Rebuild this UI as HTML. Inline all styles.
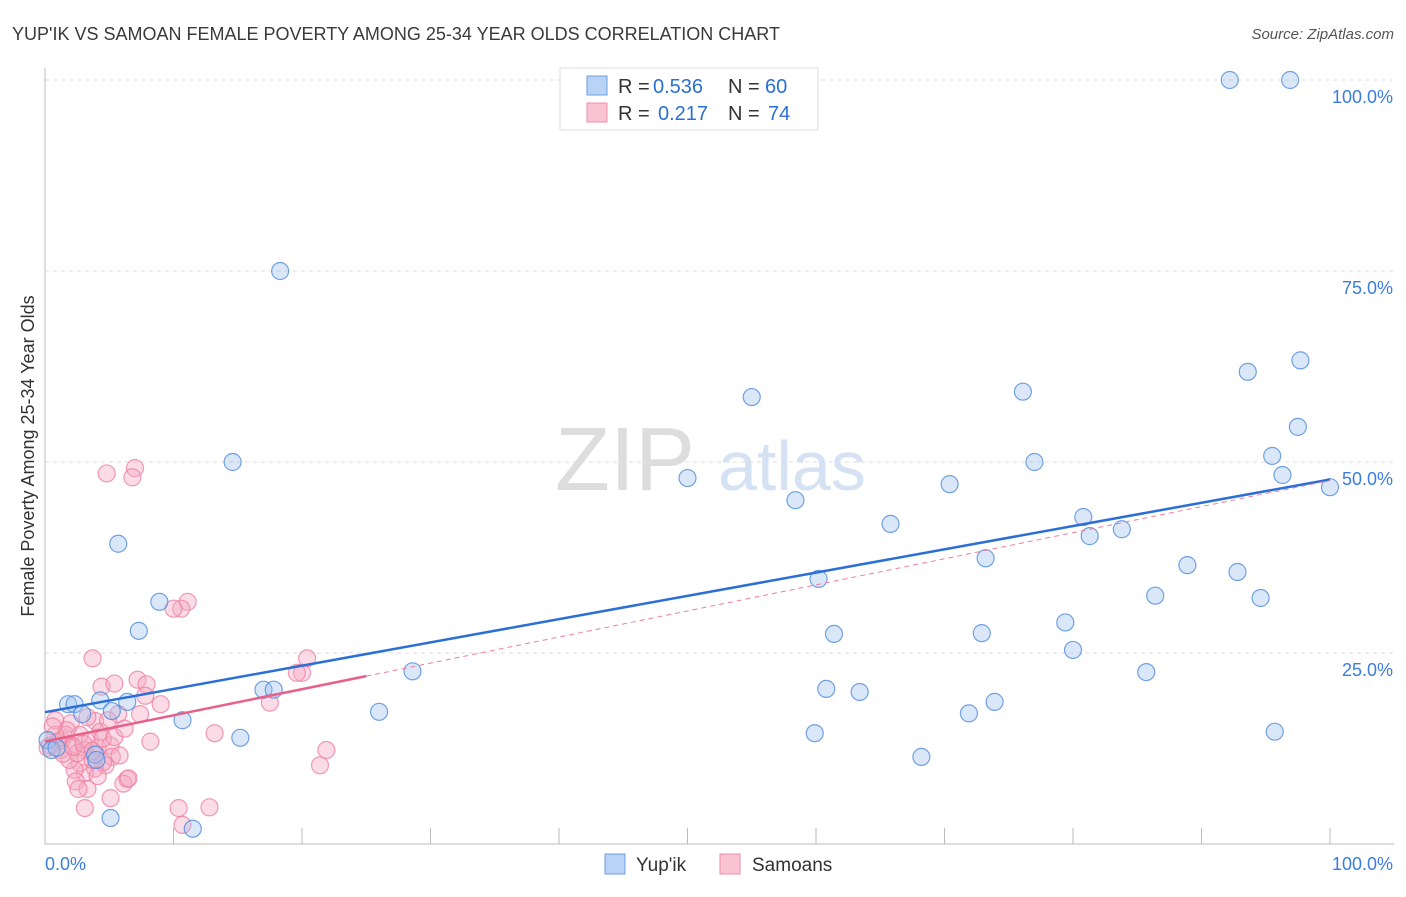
<!DOCTYPE html>
<html><head><meta charset="utf-8"><style>
body{margin:0;background:#fff;font-family:"Liberation Sans",sans-serif}
svg text{font-family:"Liberation Sans",sans-serif}
</style></head><body>
<svg width="1406" height="892" viewBox="0 0 1406 892" xmlns="http://www.w3.org/2000/svg">
<text x="12" y="40" font-size="18" fill="#3a3a3a">YUP'IK VS SAMOAN FEMALE POVERTY AMONG 25-34 YEAR OLDS CORRELATION CHART</text>
<text x="1394" y="39" font-size="15" fill="#555" text-anchor="end" font-style="italic">Source: ZipAtlas.com</text>
<g id="grid"></g>
<text x="555" y="490" font-size="90" fill="#ddd" font-family="Liberation Serif">ZIP</text>
<text x="718" y="490" font-size="70" fill="#d5e2f3">atlas</text>
<g id="marks"></g>
<text transform="translate(34,456) rotate(-90)" font-size="18" fill="#333" text-anchor="middle">Female Poverty Among 25-34 Year Olds</text>
<g>
<rect x="560" y="68" width="258" height="62" fill="#fff" stroke="#ddd"/>
<rect x="587" y="76" width="20" height="19" fill="#b8d3f5" stroke="#6b9fe0"/>
<rect x="587" y="103" width="20" height="19" fill="#f9c3d3" stroke="#ec8fab"/>
<text y="93" font-size="20" fill="#333"><tspan x="618">R =</tspan><tspan x="653" fill="#2b6fd6">0.536</tspan><tspan x="728">N =</tspan><tspan x="765" fill="#2b6fd6">60</tspan></text>
<text y="120" font-size="20" fill="#333"><tspan x="618">R =</tspan><tspan x="658" fill="#2b6fd6">0.217</tspan><tspan x="728">N =</tspan><tspan x="768" fill="#2b6fd6">74</tspan></text>
</g>
<g>
<rect x="605" y="854" width="20" height="20" fill="#b8d3f5" stroke="#6b9fe0"/>
<text x="636" y="871" font-size="19" fill="#333">Yup'ik</text>
<rect x="720" y="854" width="20" height="20" fill="#f9c3d3" stroke="#ec8fab"/>
<text x="752" y="871" font-size="19" fill="#333">Samoans</text>
</g>
</svg>
<script>
const yTicks=[25,50,75,100];
const yTickLabels=["25.0%","50.0%","75.0%","100.0%"];
const xTickLabels=["0.0%","100.0%"];
const yupikX=[92.2,96.9,18.3,14.6,5.7,8.9,7.3,1.8,2.3,4.3,2.9,6.4,5.2,10.7,15.2,17.0,17.8,28.6,26.0,5.1,11.5,0.2,0.5,0.9,3.9,4.0,55.0,50.0,58.4,60.2,61.4,60.8,63.4,59.9,68.2,65.8,70.4,73.2,72.9,71.9,73.9,76.1,77.0,80.8,81.3,83.8,79.4,80.0,85.7,86.4,88.9,92.8,94.6,93.6,97.7,97.5,95.5,96.3,100.0,95.7];
const yupikY=[100,100,75,50,39.3,31.7,27.9,18.3,18.3,18.8,17.0,18.6,17.4,16.2,13.9,20.2,20.2,22.6,17.3,3.4,2.0,13.6,12.3,12.6,11.7,11.0,58.5,47.9,45,34.7,27.5,20.3,19.9,14.5,11.4,41.9,47.1,37.4,27.6,17.1,18.6,59.2,50,42.8,40.3,41.2,29,25.4,22.5,32.5,36.5,35.6,32.2,61.8,63.3,54.6,50.8,48.3,46.7,14.7];
const samX=[4.8,7.0,6.8,11.1,10.6,10.0,3.7,20.4,20.0,19.6,7.2,7.9,4.4,5.4,7.8,9.0,17.5,5.7,2.0,3.9,3.3,0.8,0.4,1.3,1.6,2.1,2.7,3.1,3.5,4.1,4.3,5.1,5.2,4.7,3.9,3.1,2.7,2.3,1.9,1.2,1.0,1.7,2.5,3.7,4.5,5.8,8.2,13.2,21.9,21.4,6.4,6.1,6.5,2.4,3.3,5.1,3.1,10.4,12.8,10.7,0.8,0.2,0.6,1.4,2.2,3.0,3.7,4.5,5.4,6.2,7.4,4.9,4.1,2.6];
const samY=[48.5,49.2,48,31.7,30.8,30.8,24.3,24.3,22.4,22.4,21.5,20.9,20.6,21.0,19.4,18.3,18.5,17.0,15.8,16.1,16.6,16.2,12.9,13.6,14.3,12.9,14.3,12.3,13.6,12.6,14.7,12.9,11.4,10.3,9.9,9.3,10.6,9.7,11.0,12.3,13.4,14.9,11.9,11.0,10.7,11.6,13.4,14.5,12.3,10.3,8.5,7.9,8.6,8.2,7.2,6.0,4.7,4.7,4.8,2.5,14.3,12.6,15.4,11.8,12.7,13.1,12.2,13.8,14.0,15.1,17.0,16.2,8.9,7.2];
const X=v=>45+v*12.85, Y=v=>844-v*7.64;
const NS="http://www.w3.org/2000/svg";
function mk(t,a,p){const e=document.createElementNS(NS,t);for(const k in a)e.setAttribute(k,a[k]);p.appendChild(e);return e;}
const g=document.getElementById('grid'), m=document.getElementById('marks');
yTicks.forEach((t,i)=>{
 const l=mk('line',{x1:45,x2:1394,y1:Y(t),y2:Y(t),stroke:'#ddd','stroke-dasharray':'4,4'},g);
 
 
 const tx=mk('text',{x:1393,y:Y(t)+23,'font-size':18,fill:'#3b7ddd','text-anchor':'end'},g);
 tx.textContent=yTickLabels[i];
 
 
});
const ax=mk('line',{x1:45,x2:45,y1:68,y2:844,stroke:'#bbb'},g);


const bx=mk('line',{x1:45,x2:1394,y1:844,y2:844,stroke:'#bbb'},g);


for(let i=0;i<=10;i++){
 const t=mk('line',{x1:X(i*10),x2:X(i*10),y1:828,y2:844,stroke:'#bbb'},g);
 
 
}
[[0,45,'start'],[100,1393,'end']].forEach((d,i)=>{
 const tx=mk('text',{x:d[1],y:870,'font-size':18,fill:'#3b7ddd','text-anchor':d[2]},g);
 tx.textContent=xTickLabels[i];
 
 
});
samX.forEach((x,i)=>{
 const c=mk('circle',{cx:X(x),cy:Y(samY[i]),r:8.5,fill:'rgba(246,168,193,0.4)',stroke:'rgba(236,130,163,0.8)','stroke-width':1.2},m);
 
 
});
yupikX.forEach((x,i)=>{
 const c=mk('circle',{cx:X(x),cy:Y(yupikY[i]),r:8.5,fill:'rgba(160,196,240,0.4)',stroke:'rgba(80,140,220,0.8)','stroke-width':1.2},m);
 
 
});
function fit(xs,ys){const n=xs.length;let mx=0,my=0;xs.forEach((x,i)=>{mx+=x;my+=ys[i]});mx/=n;my/=n;let sxy=0,sxx=0;xs.forEach((x,i)=>{sxy+=(x-mx)*(ys[i]-my);sxx+=(x-mx)**2});const b=sxy/sxx;return [my-b*mx,b];}
const fb=fit(yupikX,yupikY), fs=fit(samX,samY);
let l=mk('line',{x1:X(0),y1:Y(fb[0]),x2:X(100),y2:Y(fb[0]+fb[1]*100),stroke:'#2b6fd6','stroke-width':2.5},m);


l=mk('line',{x1:X(25),y1:Y(fs[0]+fs[1]*25),x2:X(100),y2:Y(fs[0]+fs[1]*100),stroke:'#ec7fa0','stroke-width':1,'stroke-dasharray':'5,4'},m);


l=mk('line',{x1:X(0),y1:Y(fs[0]),x2:X(25),y2:Y(fs[0]+fs[1]*25),stroke:'#e8608a','stroke-width':2.5},m);


</script>
</body></html>
